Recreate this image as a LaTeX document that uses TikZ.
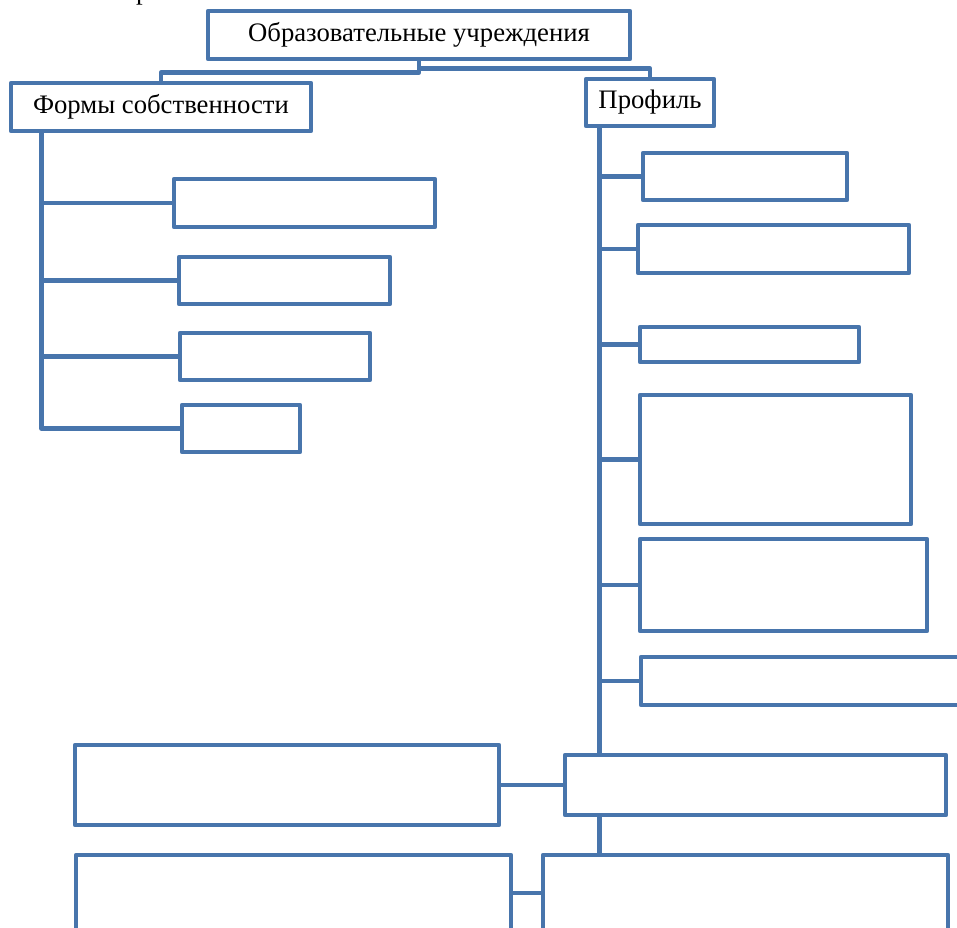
\documentclass[tikz,border=0pt]{standalone}
\usepackage{fontspec}
\setmainfont{Liberation Serif}
\usetikzlibrary{calc}
\definecolor{lineblue}{RGB}{72,117,172}
\tikzset{
  bx/.style={draw=lineblue, line width=4.6pt, fill=white, inner sep=0pt, outer sep=0pt,
    line join=round, font=\fontsize{26.7}{30}\selectfont, text=black},
  conn/.style={draw=lineblue, line width=4.6pt, line join=round},
}
\begin{document}
\begin{tikzpicture}[x=1pt,y=-1pt]
\useasboundingbox (0,0) rectangle (957,927);
% stray fragment of a text line above the picture (only its descender shows)
\node[anchor=base west, inner sep=0pt, font=\fontsize{26.7}{30}\selectfont] (frag) at (136,-1) {р};

\coordinate (jL) at (161,72.5);
\coordinate (jR) at (650,68.5);
\coordinate (tl) at (41.5,131);
\coordinate (pt) at (599.5,126);

% boxes
\node[bx, minimum width=422pt, minimum height=48pt] (top) at (419,35) {Образовательные учреждения};
\node[bx, minimum width=300pt, minimum height=48pt] (forms) at (161,107) {Формы собственности};
\node[bx, minimum width=128pt, minimum height=47pt] (prof) at (650,102.5) {Профиль};

\node[bx, minimum width=261pt, minimum height=48pt] (La) at (304.5,203) {};
\node[bx, minimum width=211pt, minimum height=47pt] (Lb) at (284.5,280.5) {};
\node[bx, minimum width=190pt, minimum height=47pt] (Lc) at (275,356.5) {};
\node[bx, minimum width=118pt, minimum height=47pt] (Ld) at (241,428.5) {};

\node[bx, minimum width=204pt, minimum height=47pt] (R1) at (745,176.5) {};
\node[bx, minimum width=271pt, minimum height=48pt] (R2) at (773.5,249) {};
\node[bx, minimum width=219pt, minimum height=35pt] (R3) at (749.5,344.5) {};
\node[bx, minimum width=271pt, minimum height=129pt] (R4) at (775.5,459.5) {};
\node[bx, minimum width=287pt, minimum height=92pt] (R5) at (783.5,585) {};
\node[bx, minimum width=339pt, minimum height=48pt] (R6) at (810.5,681) {};

\node[bx, minimum width=381pt, minimum height=60pt] (B1) at (755.5,785) {};
\node[bx, minimum width=405pt, minimum height=76pt] (B2) at (745.5,893) {};
\node[bx, minimum width=424pt, minimum height=80pt] (L1) at (287,785) {};
\node[bx, minimum width=435pt, minimum height=76pt] (L2) at (293.5,893) {};

% connectors
\draw[conn] (top.south) |- (jL) -- (forms.north);
\draw[conn] (top.south) |- (jR) -- (prof.north);

\draw[conn] (tl) |- (La.west);
\draw[conn] (tl) |- (Lb.west);
\draw[conn] (tl) |- (Lc.west);
\draw[conn] (tl) |- (Ld.west);

\draw[conn] (pt) -- (pt |- B1.north);
\draw[conn] (pt) |- (R1.west);
\draw[conn] (pt) |- (R2.west);
\draw[conn] (pt) |- (R3.west);
\draw[conn] (pt) |- (R4.west);
\draw[conn] (pt) |- (R5.west);
\draw[conn] (pt) |- (R6.west);
\draw[conn] (pt |- B1.south) -- (pt |- B2.north);
\draw[conn] (L1.east) -- (B1.west);
\draw[conn] (L2.east) -- (B2.west);
\end{tikzpicture}
\end{document}
